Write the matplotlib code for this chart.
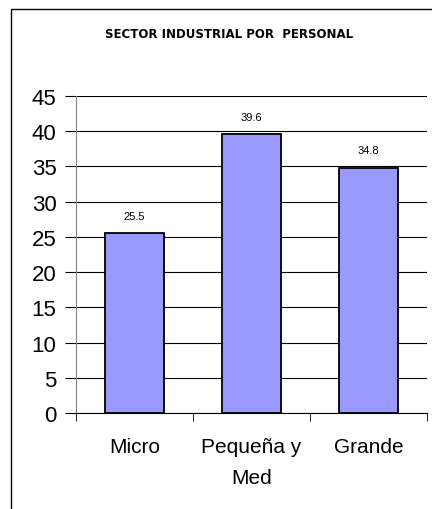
import matplotlib
matplotlib.use("Agg")
import matplotlib.pyplot as plt
from matplotlib.patches import Rectangle
from matplotlib.ticker import MultipleLocator, FixedLocator

categories = ["Micro", "Pequeña y\nMed", "Grande"]
values = [25.5, 39.6, 34.8]
title = "SECTOR INDUSTRIAL POR  PERSONAL"

plt.rcParams['font.family'] = ['Liberation Sans', 'DejaVu Sans']

fig = plt.figure(figsize=(4.32, 5.10), dpi=100)
fig.patch.set_facecolor("white")

# outer chart border (extends beyond image right/bottom)
fig.patches.append(Rectangle((11/432, -0.05), 1.2, (510-10)/510 + 0.05,
                             transform=fig.transFigure, fill=False,
                             edgecolor="black", linewidth=1.0, clip_on=False))

ax = fig.add_axes([76/432, (510-414)/510, (427-76)/432, (414-97)/510])
x = list(range(len(categories)))
bars = ax.bar(x, values, width=0.51, color="#9999FF", edgecolor="black",
              linewidth=1.3, zorder=3)

ax.set_ylim(0, 45)
ax.set_xlim(-0.5, len(categories) - 0.5)
ax.yaxis.set_major_locator(MultipleLocator(5))
ax.grid(axis="y", color="black", linewidth=0.8, zorder=0)
ax.set_axisbelow(True)

for s in ["top", "right"]:
    ax.spines[s].set_visible(False)
ax.spines["left"].set_color("#808080")
ax.spines["bottom"].set_color("black")

ax.set_xticks(x)
ax.set_xticklabels(categories, fontsize=15, linespacing=1.85, va="top")
ax.tick_params(axis="x", which="major", length=0, pad=17)
ax.xaxis.set_minor_locator(FixedLocator([i - 0.5 for i in range(len(categories) + 1)]))
ax.tick_params(axis="x", which="minor", length=6, direction="out", color="black")
ax.tick_params(axis="y", length=8, direction="out", color="black", labelsize=16, pad=6)

for xi, v in zip(x, values):
    ax.annotate(f"{v}", (xi, v), xytext=(0, 9), textcoords="offset points",
                ha="center", va="bottom", fontsize=8)

fig.text(229/432, 1 - 34/510, title, ha="center", va="center",
         fontsize=8.5, fontweight="bold", family=["DejaVu Sans"])

fig.savefig("out.png", dpi=100, facecolor="white")
